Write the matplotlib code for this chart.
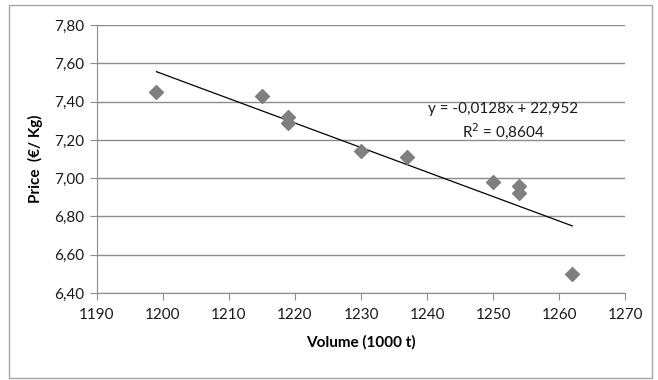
import numpy as np
import matplotlib.pyplot as plt
from matplotlib.ticker import FuncFormatter
from matplotlib.patches import Rectangle

plt.rcParams['font.family'] = ['Lato', 'DejaVu Sans']

volume = [1199, 1215, 1219, 1219, 1230, 1237, 1250, 1254, 1254, 1262]
price = [7.45, 7.43, 7.32, 7.29, 7.14, 7.11, 6.98, 6.96, 6.92, 6.50]
eq_text = "y = -0,0128x + 22,952"
r2_text = "R$^2$ = 0,8604"

fig = plt.figure(figsize=(6.58, 3.80), dpi=100)
ax = fig.add_axes([0.1474, 0.229, 0.8026, 0.705])

# chart border
fig.patches.append(Rectangle((0.014, 0.005), 0.977, 0.983, transform=fig.transFigure,
                             fill=False, edgecolor='#a6a6a6', lw=1))

ax.scatter(volume, price, marker='D', s=50, color='#7f7f7f', zorder=3)

# linear trend line
k, b = np.polyfit(volume, price, 1)
xs = np.array([min(volume), max(volume)])
ax.plot(xs, k * xs + b, color='black', lw=0.9, zorder=2)

ax.text(1251.5, 7.36, eq_text, ha='center', va='center', fontsize=11, color='#1a1a1a')
ax.text(1251.5, 7.245, r2_text, ha='center', va='center', fontsize=11, color='#1a1a1a')

ax.set_xlim(1190, 1270)
ax.set_ylim(6.40, 7.80)
ax.set_xticks(np.arange(1190, 1271, 10))
ax.set_yticks(np.arange(6.40, 7.81, 0.20))
ax.yaxis.set_major_formatter(FuncFormatter(lambda v, p: f"{v:.2f}".replace('.', ',')))
ax.grid(axis='y', color='#8c8c8c', lw=1)
ax.set_axisbelow(True)
for s in ['top', 'right']:
    ax.spines[s].set_visible(False)
for s in ['left', 'bottom']:
    ax.spines[s].set_color('#8c8c8c')
ax.tick_params(axis='both', colors='#8c8c8c', labelcolor='#1a1a1a', labelsize=11, length=5)
ax.tick_params(axis='y', pad=4)
ax.tick_params(axis='x', pad=6)

ax.set_xlabel("Volume (1000 t)", fontweight='bold', fontsize=11, labelpad=9)
ax.set_ylabel("Price  (€/ Kg)", fontweight='bold', fontsize=11, labelpad=8)

fig.savefig("out.png", dpi=100)
